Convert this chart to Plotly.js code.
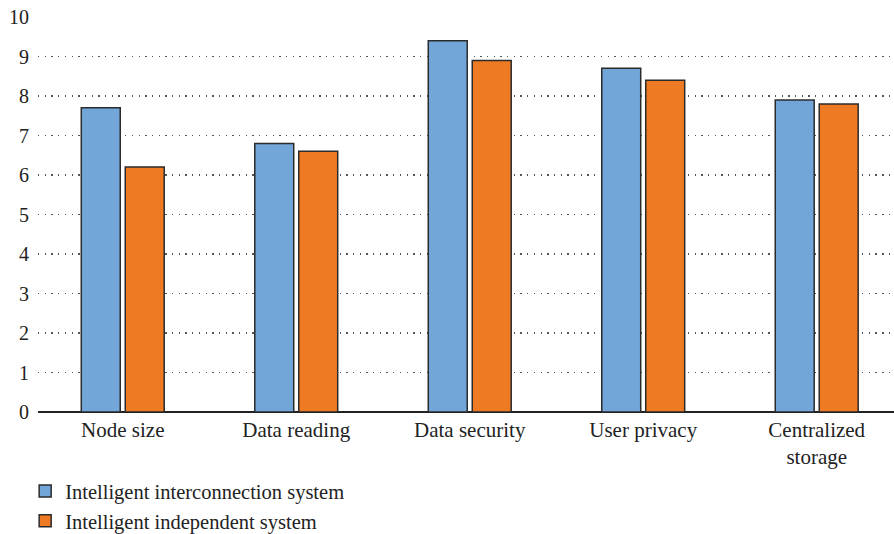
<!DOCTYPE html>
<html>
<head>
<meta charset="utf-8">
<script src="https://cdn.plot.ly/plotly-3.0.1.min.js"></script>
<style>html,body{margin:0;padding:0;background:#fff;}#chart{width:894px;height:534px;}</style>
</head>
<body>
<div id="chart"></div>
<script>
const categories = ["Node size", "Data reading", "Data security", "User privacy", "Centralized<br>storage"];
const seriesNames = ["Intelligent interconnection system", "Intelligent independent system"];
const interconnection = [7.7, 6.8, 9.4, 8.7, 7.9];
const independent = [6.2, 6.6, 8.9, 8.4, 7.8];
const yTicks = [0, 1, 2, 3, 4, 5, 6, 7, 8, 9, 10];

const fam = "'Liberation Serif', 'DejaVu Serif', serif";
const font = {family: fam, size: 21, color: "#222"};
const yfont = {family: fam, size: 20, color: "#222"};
const lfont = {family: fam, size: 20.5, color: "#222"};

const data = [
  {type: "bar", name: seriesNames[0], x: categories, y: interconnection,
   marker: {color: "#72A6D8", line: {color: "#2b2b2b", width: 1.5}}},
  {type: "bar", name: seriesNames[1], x: categories, y: independent,
   marker: {color: "#EE7B24", line: {color: "#2b2b2b", width: 1.5}}}
];

const layout = {
  width: 894, height: 534,
  margin: {l: 38, r: 0, t: 17, b: 122, autoexpand: false},
  paper_bgcolor: "#fff", plot_bgcolor: "#fff",
  font: font,
  barmode: "group",
  bargap: 0.493,
  bargroupgap: 0.114,
  xaxis: {
    range: [-0.4885, 4.4455], automargin: false,
    showgrid: false, zeroline: false,
    showline: false, ticks: "", ticklabelstandoff: 3,
    tickfont: font
  },
  yaxis: {
    range: [0, 10], automargin: false,
    tickvals: yTicks,
    ticktext: yTicks.map(String),
    showgrid: true, gridcolor: "#555", gridwidth: 1.3, griddash: "1.3px,5.4px",
    zeroline: true, zerolinecolor: "#222", zerolinewidth: 1.5,
    showline: false, ticks: "", ticklabelstandoff: 8,
    tickfont: yfont
  },
  showlegend: true,
  legend: {
    orientation: "v", x: -0.015, xanchor: "left", y: -0.15, yanchor: "top",
    font: lfont, bgcolor: "rgba(0,0,0,0)", tracegroupgap: 0
  }
};

Plotly.newPlot("chart", data, layout, {displayModeBar: false, staticPlot: true});
</script>
</body>
</html>
